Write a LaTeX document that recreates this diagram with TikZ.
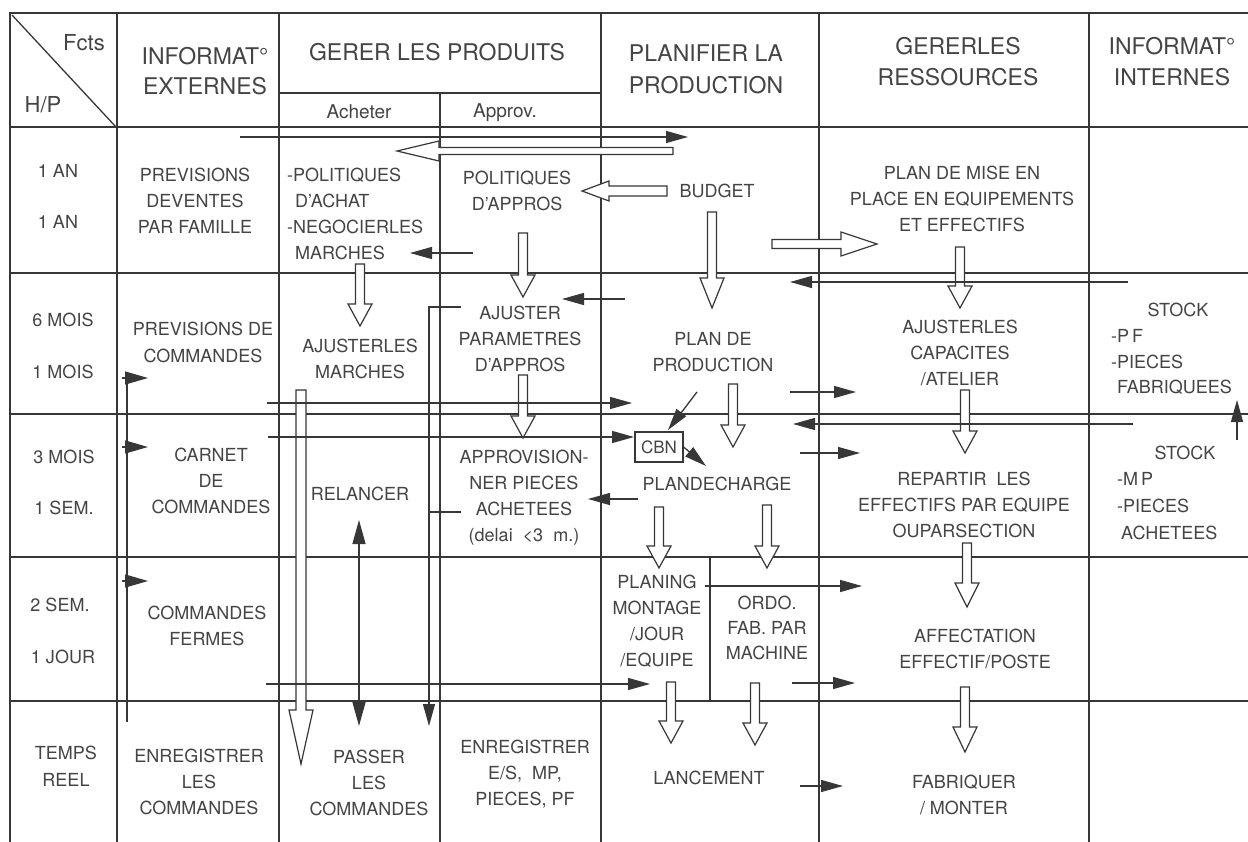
\documentclass[tikz,border=0pt]{standalone}
\usepackage{fontspec}
\setmainfont{TeX Gyre Heros}
\usetikzlibrary{arrows.meta,calc}
\definecolor{txt}{RGB}{68,68,68}
\definecolor{ln}{RGB}{55,55,55}
% hollow block arrow: from, to, shaft half width, head half width, head length
\newcommand\blockarrow[5]{%
  \path let \p1=(#1), \p2=(#2), \n1={atan2(\y2-\y1,\x2-\x1)}, \n2={veclen(\x2-\x1,\y2-\y1)} in
    \pgfextra{\xdef\baang{\n1}\xdef\balen{\n2}};
  \draw[hollow, shift={(#1)}, rotate=\baang] (0pt,-#3pt) -- ({\balen-#5pt},-#3pt) -- ({\balen-#5pt},-#4pt) -- (\balen,0pt) -- ({\balen-#5pt},#4pt) -- ({\balen-#5pt},#3pt) -- (0pt,#3pt) -- cycle;
}
\tikzset{
 grid/.style={draw=ln, line width=1.3pt},
 frame/.style={draw=ln, line width=2.8pt},
 lbl/.style={text=txt, inner sep=0pt, align=center, font=\fontsize{18}{26}\selectfont},
 hdr/.style={lbl, font=\fontsize{23}{31}\selectfont},
 subh/.style={lbl, font=\fontsize{19}{22}\selectfont},
 farr/.style={draw=ln, line width=1.3pt, -{Triangle[length=22pt,width=12pt]}},
 flagarr/.style={draw=ln, line width=1.3pt, -{Triangle[length=23pt,width=13pt]}},
 dfarr/.style={draw=ln, line width=1.3pt, {Triangle[length=24pt,width=13pt]}-{Triangle[length=24pt,width=13pt]}},
 plainline/.style={draw=ln, line width=1.3pt},
 hollow/.style={draw=ln, fill=white, line width=1.2pt, line join=miter},
}
\begin{document}
\begin{tikzpicture}[x=1pt,y=-1pt]
\useasboundingbox (0,0) rectangle (1248,842);
\fill[white] (0,0) rectangle (1248,842);

% ---------- table grid ----------
\draw[frame] (10,13) -- (1248,13);
\draw[frame] (10,12) -- (10,842);
\draw[grid, line width=2pt] (10,127) -- (1248,127);
\foreach \yy in {273,414,557,701} \draw[grid] (10,\yy) -- (1248,\yy);
\foreach \xx in {117,279,601,819,1089} \draw[grid] (\xx,13) -- (\xx,842);
\draw[grid] (440,93) -- (440,842);
\draw[grid] (279,93) -- (601,93);
\draw[grid] (710,557) -- (710,702);
\draw[grid] (12,15) -- (116,127);

% ---------- coordinates ----------
\coordinate (h1s) at (673,151); \coordinate (h1e) at (397,151);
\coordinate (h2s) at (667,191); \coordinate (h2e) at (582,191);
\coordinate (h3s) at (772,244); \coordinate (h3e) at (877,244);
\coordinate (h4s) at (523,233); \coordinate (h4e) at (523,297);
\coordinate (h5s) at (712,212); \coordinate (h5e) at (712,308);
\coordinate (h6s) at (960,247); \coordinate (h6e) at (960,308);
\coordinate (h7s) at (360,264); \coordinate (h7e) at (360,326);
\coordinate (h8s) at (301,390); \coordinate (h8e) at (301,764);
\coordinate (h9s) at (523,375); \coordinate (h9e) at (523,438);
\coordinate (h10s) at (733,384); \coordinate (h10e) at (733,447);
\coordinate (h11s) at (965,390); \coordinate (h11e) at (965,453);
\coordinate (h12s) at (659,507); \coordinate (h12e) at (659,568);
\coordinate (h13s) at (767,505); \coordinate (h13e) at (767,568);
\coordinate (h14s) at (967,543); \coordinate (h14e) at (967,607);
\coordinate (h15s) at (671,682); \coordinate (h15e) at (671,743);
\coordinate (h16s) at (755,683); \coordinate (h16e) at (755,745);
\coordinate (h17s) at (965,687); \coordinate (h17e) at (965,752);

% ---------- hollow arrows ----------
\blockarrow{h1s}{h1e}{3.5}{10}{42}
\blockarrow{h2s}{h2e}{5}{10}{27}
\blockarrow{h3s}{h3e}{4.5}{12}{36}
\blockarrow{h4s}{h4e}{4.5}{12}{22}
\blockarrow{h5s}{h5e}{4.5}{12}{30}
\blockarrow{h6s}{h6e}{4.5}{12}{22}
\blockarrow{h7s}{h7e}{4.5}{12}{22}
\blockarrow{h8s}{h8e}{5}{12}{54}
\blockarrow{h9s}{h9e}{4.5}{12}{22}
\blockarrow{h10s}{h10e}{4.5}{12}{22}
\blockarrow{h11s}{h11e}{4.5}{12}{22}
\blockarrow{h12s}{h12e}{4.5}{12}{22}
\blockarrow{h13s}{h13e}{4.5}{12}{22}
\blockarrow{h14s}{h14e}{4.5}{12}{24}
\blockarrow{h15s}{h15e}{4.5}{12}{22}
\blockarrow{h16s}{h16e}{4.5}{12}{22}
\blockarrow{h17s}{h17e}{4.5}{12}{25}

% ---------- header ----------
\node[lbl, font=\fontsize{22}{26}\selectfont] (fcts) at (84,43) {Fcts};
\node[lbl, font=\fontsize{22}{26}\selectfont] (hp) at (43,105) {H/P};
\node[hdr, font=\fontsize{23}{30}\selectfont] (hext) at (205,71) {INFORMAT°\\EXTERNES};
\node[hdr] (hprod) at (437,52) {GERER LES PRODUITS};
\node[subh] (hach) at (359,112) {Acheter};
\node[subh] (happ) at (505,113) {Approv.};
\node[hdr, font=\fontsize{23}{32}\selectfont] (hplan) at (706,69) {PLANIFIER LA\\PRODUCTION};
\node[hdr] (hres) at (958,62) {GERERLES\\RESSOURCES};
\node[hdr] (hint) at (1172,62) {INFORMAT°\\INTERNES};

% ---------- horizon column ----------
\node[lbl] (t1a) at (58,171) {1 AN};
\node[lbl] (t1b) at (58,222) {1 AN};
\node[lbl] (t2a) at (63,320) {6 MOIS};
\node[lbl] (t2b) at (63,372) {1 MOIS};
\node[lbl] (t3a) at (64,457) {3 MOIS};
\node[lbl] (t3b) at (64,508) {1 SEM.};
\node[lbl] (t4a) at (60,605) {2 SEM.};
\node[lbl] (t4b) at (63,657) {1 JOUR};
\node[lbl, font=\fontsize{18}{27}\selectfont] (t5) at (66,766) {TEMPS\\REEL};

% ---------- informations externes ----------
\node[lbl] (prev) at (195,201) {PREVISIONS\\DEVENTES\\PAR FAMILLE};
\node[lbl, font=\fontsize{18}{27}\selectfont] (prevc) at (203,342) {PREVISIONS DE\\COMMANDES};
\node[lbl] (carnet) at (211,481) {CARNET\\DE\\COMMANDES};
\node[lbl] (cmdf) at (207,626) {COMMANDES\\FERMES};
\node[lbl] (enreg) at (199,782) {ENREGISTRER\\LES\\COMMANDES};

% ---------- acheter ----------
\node[lbl, align=left, anchor=west] (polach) at (287,214) {-POLITIQUES\\\hspace*{8pt}D'ACHAT\\-NEGOCIERLES\\\hspace*{8pt}MARCHES};
\node[lbl] (ajmarch) at (360,359) {AJUSTERLES\\MARCHES};
\node[lbl] (relancer) at (360,494) {RELANCER};
\node[lbl] (passer) at (369,783) {PASSER\\LES\\COMMANDES};

% ---------- approv ----------
\node[lbl] (polapp) at (517,191) {POLITIQUES\\D'APPROS};
\node[lbl] (ajpar) at (520,339) {AJUSTER\\PARAMETRES\\D'APPROS};
\node[lbl] (appro) at (524,498) {APPROVISION-\\NER PIECES\\ACHETEES\\(delai\ \ <3\ \ m.)};
\node[lbl] (enres) at (525,774) {ENREGISTRER\\E/S,\ \ MP,\\PIECES, PF};

% ---------- planifier ----------
\node[lbl] (budget) at (717,191) {BUDGET};
\node[lbl] (planprod) at (713,352) {PLAN DE\\PRODUCTION};
\node[draw=ln, line width=1.2pt, minimum width=48pt, minimum height=30pt, inner sep=0pt, text=txt, font=\fontsize{17}{20}\selectfont] (cbn) at (659,447) {CBN};
\node[lbl] (plancharge) at (717,484) {PLANDECHARGE};
\node[lbl] (planing) at (657,621) {PLANING\\MONTAGE\\/JOUR\\/EQUIPE};
\node[lbl, font=\fontsize{18}{25}\selectfont] (ordo) at (767,628) {ORDO.\\FAB. PAR\\MACHINE};
\node[lbl] (lance) at (709,778) {LANCEMENT};

% ---------- ressources ----------
\node[lbl] (planmise) at (962,199) {PLAN DE MISE EN\\PLACE EN EQUIPEMENTS\\ET EFFECTIFS};
\node[lbl] (ajcap) at (960,353) {AJUSTERLES\\CAPACITES\\/ATELIER};
\node[lbl] (repart) at (964,505) {REPARTIR\ \ LES\\EFFECTIFS PAR EQUIPE\\OUPARSECTION};
\node[lbl] (affect) at (975,649) {AFFECTATION\\EFFECTIF/POSTE};
\node[lbl] (fabr) at (964,795) {FABRIQUER\\/ MONTER};

% ---------- informations internes ----------
\node[lbl] (stk1) at (1178,310) {STOCK};
\node[lbl, align=left, anchor=west, font=\fontsize{18}{25.5}\selectfont] (stk1l) at (1111,362) {-P\,F\\-PIECES\\\hspace*{6pt}FABRIQUEES};
\node[lbl] (stk2) at (1185,453) {STOCK};
\node[lbl, align=left, anchor=west, font=\fontsize{18}{27}\selectfont] (stk2l) at (1117,506) {-M\,P\\-PIECES\\\hspace*{4pt}ACHETEES};

% ---------- thin arrows coordinates ----------
\coordinate (a1s) at (240,137); \coordinate (a1e) at (688,137);
\coordinate (a2s) at (473,253); \coordinate (a2e) at (410,253);
\coordinate (a3s) at (1128,282); \coordinate (a3e) at (790,282);
\coordinate (a4s) at (625,299); \coordinate (a4e) at (562,299);
\coordinate (a5s) at (267,403); \coordinate (a5e) at (632,403);
\coordinate (a6s) at (268,437); \coordinate (a6e) at (634,437);
\coordinate (a7s) at (697,392); \coordinate (a7e) at (668,430);
\coordinate (a8e) at (706,466);
\coordinate (a9s) at (790,392); \coordinate (a9e) at (856,392);
\coordinate (a10s) at (1133,424); \coordinate (a10e) at (793,424);
\coordinate (a11s) at (800,453); \coordinate (a11e) at (860,453);
\coordinate (a12s) at (638,499); \coordinate (a12e) at (588,499);
\coordinate (a13s) at (1237,440); \coordinate (a13e) at (1237,400);
\coordinate (a14s) at (705,586); \coordinate (a14e) at (862,586);
\coordinate (a15s) at (266,684); \coordinate (a15e) at (650,684);
\coordinate (a16s) at (792,683); \coordinate (a16e) at (855,683);
\coordinate (a17s) at (800,786); \coordinate (a17e) at (843,786);
\coordinate (a18s) at (359,520); \coordinate (a18e) at (359,726);
\coordinate (b1) at (461,307); \coordinate (b2) at (429,307); \coordinate (b3) at (429,726);
\coordinate (b4) at (461,512); \coordinate (b5) at (429,512);
\coordinate (v0) at (127,372); \coordinate (v9) at (127,722);
\coordinate (f1s) at (122,378); \coordinate (f1e) at (148,378);
\coordinate (f2s) at (122,447); \coordinate (f2e) at (148,447);
\coordinate (f3s) at (122,581); \coordinate (f3e) at (148,581);

% ---------- thin arrows ----------
\draw[farr] (a1s) -- (a1e);
\draw[farr] (a2s) -- (a2e);
\draw[farr] (a3s) -- (a3e);
\draw[farr] (a4s) -- (a4e);
\draw[farr] (a5s) -- (a5e);
\draw[farr] (a6s) -- (a6e);
\draw[farr] (a7s) -- (a7e);
\draw[farr] (cbn.east) -- (a8e);
\draw[farr] (a9s) -- (a9e);
\draw[farr] (a10s) -- (a10e);
\draw[farr] (a11s) -- (a11e);
\draw[farr] (a12s) -- (a12e);
\draw[farr] (a13s) -- (a13e);
\draw[farr] (a14s) -- (a14e);
\draw[farr] (a15s) -- (a15e);
\draw[farr] (a16s) -- (a16e);
\draw[farr] (a17s) -- (a17e);
\draw[dfarr] (a18s) -- (a18e);
\draw[farr] (b1) -- (b2) -- (b3);
\draw[plainline] (b4) -- (b5);
\draw[plainline] (v0) -- (v9);
\draw[flagarr] (f1s) -- (f1e);
\draw[flagarr] (f2s) -- (f2e);
\draw[flagarr] (f3s) -- (f3e);
\end{tikzpicture}
\end{document}
